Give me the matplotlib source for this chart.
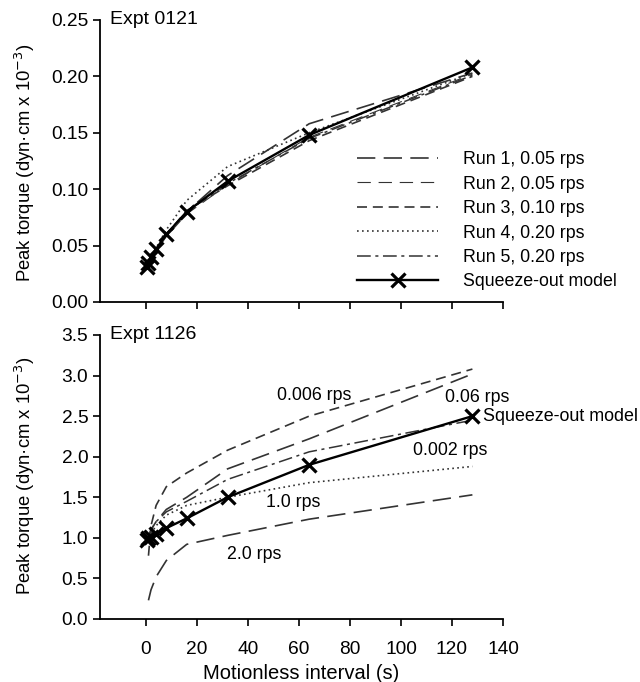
import matplotlib
matplotlib.use("Agg")
import matplotlib.pyplot as plt

plt.rcParams["font.family"] = ["Liberation Sans", "DejaVu Sans"]
plt.rcParams["font.size"] = 13

# Expt 0121 (top panel)
x_runs = [1, 2, 4, 8, 16, 32, 64, 128]
run1 = [0.033, 0.039, 0.046, 0.059, 0.080, 0.112, 0.158, 0.203]
run2 = [0.032, 0.038, 0.045, 0.058, 0.078, 0.104, 0.146, 0.202]
run3 = [0.033, 0.039, 0.046, 0.060, 0.081, 0.103, 0.143, 0.200]
run4 = [0.034, 0.040, 0.048, 0.064, 0.090, 0.120, 0.150, 0.203]
run5 = [0.032, 0.038, 0.046, 0.059, 0.080, 0.105, 0.145, 0.201]
x_model = [0.5, 1, 2, 4, 8, 16, 32, 64, 128]
model_top = [0.031, 0.035, 0.040, 0.047, 0.060, 0.080, 0.107, 0.148, 0.208]
run_labels = ["Run 1, 0.05 rps", "Run 2, 0.05 rps", "Run 3, 0.10 rps",
              "Run 4, 0.20 rps", "Run 5, 0.20 rps"]

# Expt 1126 (bottom panel)
rps_0006 = [0.78, 1.15, 1.40, 1.63, 1.80, 2.08, 2.50, 3.08]
rps_006 = [1.00, 1.10, 1.20, 1.35, 1.50, 1.85, 2.22, 3.02]
rps_dashdot = [1.00, 1.10, 1.20, 1.32, 1.45, 1.72, 2.06, 2.45]
rps_0002 = [1.00, 1.05, 1.15, 1.28, 1.40, 1.50, 1.68, 1.88]
rps_20 = [0.23, 0.36, 0.52, 0.72, 0.92, 1.03, 1.23, 1.53]
model_bot = [0.97, 1.00, 1.01, 1.05, 1.12, 1.24, 1.50, 1.90, 2.50]

xticks = [0, 20, 40, 60, 80, 100, 120, 140]

fig = plt.figure(figsize=(6.4, 6.82), dpi=100)
ax1 = fig.add_axes([0.15625, 0.5572, 0.6297, 0.4135])
ax2 = fig.add_axes([0.15625, 0.0924, 0.6297, 0.4164])

gray = "#333333"
styles = [
    dict(dashes=(11, 5), lw=1.2),
    dict(dashes=(12, 7), lw=0.8),
    dict(dashes=(6, 3.5), lw=1.2),
    dict(dashes=(1, 2), lw=1.2),
    dict(dashes=(9, 3, 2, 3), lw=1.1),
]
for y, lab, st in zip([run1, run2, run3, run4, run5], run_labels, styles):
    ax1.plot(x_runs, y, color=gray, label=lab, **st)
ax1.plot(x_model, model_top, color="k", lw=1.7, marker="x", ms=10, mew=2.3,
         label="Squeeze-out model")

ax1.set_ylim(0, 0.25)
ax1.set_yticks([0.00, 0.05, 0.10, 0.15, 0.20, 0.25])
ax1.set_yticklabels([f"{v:.2f}" for v in ax1.get_yticks()])
ax1.set_xticklabels([])

ax1.legend(loc="upper left", bbox_to_anchor=(0.637, 0.535), frameon=False,
           handlelength=4.6, handletextpad=1.4, labelspacing=0.42,
           fontsize=12.8, borderaxespad=0, borderpad=0)

ax2.plot(x_runs, rps_0006, color=gray, dashes=(6, 3.5), lw=1.2)
ax2.plot(x_runs, rps_006, color=gray, dashes=(11, 5), lw=1.2)
ax2.plot(x_runs, rps_dashdot, color=gray, dashes=(9, 3, 2, 3), lw=1.1)
ax2.plot(x_runs, rps_0002, color=gray, dashes=(1, 2), lw=1.2)
ax2.plot(x_runs, rps_20, color=gray, dashes=(11, 5), lw=1.2)
ax2.plot(x_model, model_bot, color="k", lw=1.7, marker="x", ms=10, mew=2.3)

ax2.set_ylim(0, 3.5)
ax2.set_yticks([0.0, 0.5, 1.0, 1.5, 2.0, 2.5, 3.0, 3.5])
ax2.set_yticklabels([f"{v:.1f}" for v in ax2.get_yticks()])
ax2.set_xlabel("Motionless interval (s)", labelpad=4, fontsize=14.5)

ax2.text(65.9, 2.76, "0.006 rps", ha="center", va="center", fontsize=12.8)
ax2.text(129.8, 2.73, "0.06 rps", ha="center", va="center", fontsize=12.8)
ax2.text(132.0, 2.49, "Squeeze-out model", ha="left", va="center", fontsize=12.9)
ax2.text(119.2, 2.08, "0.002 rps", ha="center", va="center", fontsize=12.8)
ax2.text(57.6, 1.43, "1.0 rps", ha="center", va="center", fontsize=12.8)
ax2.text(42.5, 0.79, "2.0 rps", ha="center", va="center", fontsize=12.8)

for ax, tag in [(ax1, "Expt 0121"), (ax2, "Expt 1126")]:
    ax.set_xlim(-18, 140)
    ax.set_xticks(xticks)
    for s in ["top", "right"]:
        ax.spines[s].set_visible(False)
    for s in ["left", "bottom"]:
        ax.spines[s].set_linewidth(1.3)
    ax.tick_params(direction="out", length=5, width=1.2, labelsize=13.8)
    ax.tick_params(axis="x", pad=11)
    ax.text(0.025, 1.0, tag, transform=ax.transAxes, ha="left", va="center",
            fontsize=14)

ylab = "Peak torque (dyn\u00b7cm x 10$^{-3}$)"
fig.text(0.039, 0.761, ylab, rotation=90, ha="center", va="center", fontsize=13.3)
fig.text(0.039, 0.302, ylab, rotation=90, ha="center", va="center", fontsize=13.3)

fig.savefig("out.png", dpi=100)
